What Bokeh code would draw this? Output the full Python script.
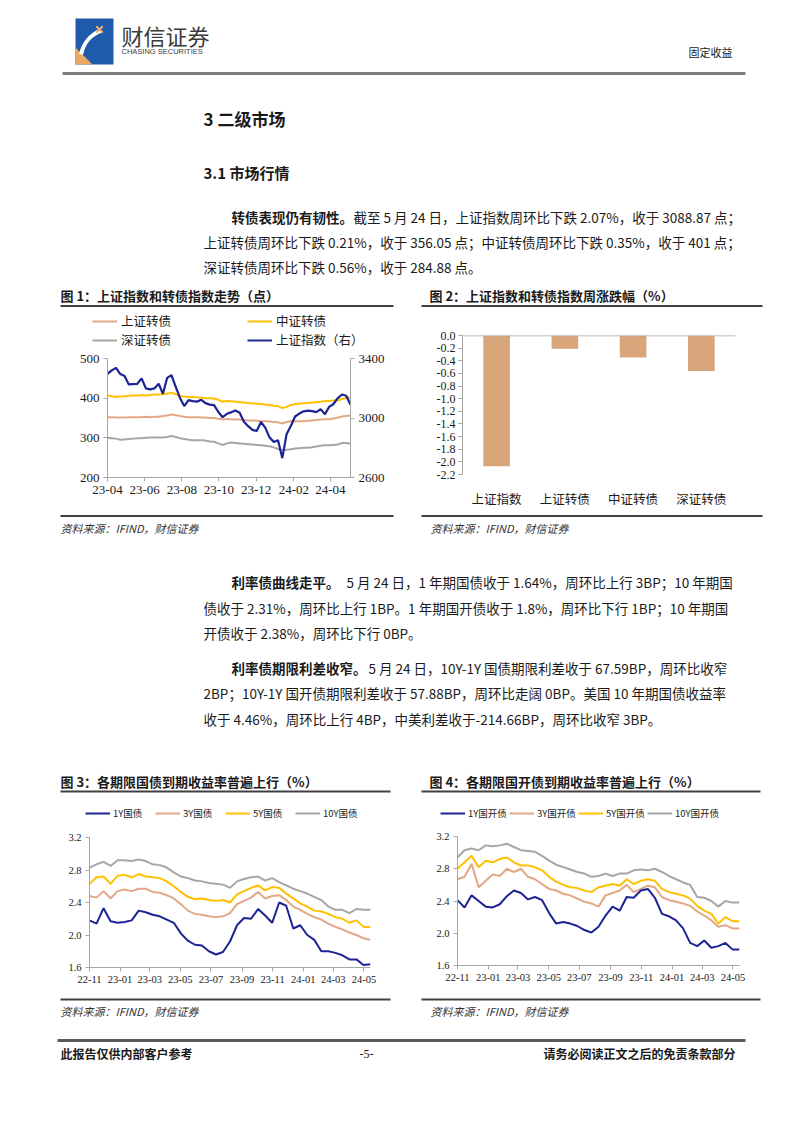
import pandas as pd
from bokeh.plotting import figure
from bokeh.layouts import column, row
from bokeh.models import (Range1d, LinearAxis, FixedTicker, Legend, LegendItem, FactorRange,
                          PrintfTickFormatter, ColumnDataSource, DatetimeTickFormatter, Span)
from bokeh.core.properties import value
from bokeh.embed import file_html
from bokeh.resources import INLINE

CJK = "Noto Sans CJK SC"
SERIF = "Liberation Serif"

# ---------------- data: chart 1 (weekly) ----------------
c1_dates = pd.date_range("2023-04-01", periods=58, freq="7D")
c1_sh_index = [3297, 3320, 3337, 3295, 3282, 3226, 3228, 3230, 3266, 3199,
               3192, 3199, 3230, 3163, 3270, 3288, 3210, 3135, 3080, 3120,
               3113, 3110, 3122, 3100, 3090, 3087, 3040, 3005, 3028, 3038,
               3050, 3035, 2975, 2945, 2920, 2913, 2973, 2935, 2870, 2838,
               2850, 2730, 2890, 2946, 3010, 3030, 3045, 3050, 3046, 3040,
               3060, 3025, 3075, 3094, 3133, 3158, 3150, 3089]
c1_zz_cb = [407, 405, 403, 404, 405, 406, 407, 407, 408, 407,
            408, 409, 409, 410, 412, 414, 410, 405, 404, 403,
            403, 402, 401, 400, 400, 399, 396, 391, 393, 392,
            391, 390, 389, 388, 387, 386, 385, 384, 383, 381,
            380, 375, 378, 383, 385, 386, 387, 388, 389, 390,
            391, 393, 393, 394, 394, 398, 401, 401]
c1_sh_cb = [352, 352, 351, 351, 351, 352, 352, 352, 352, 353,
            352, 353, 353, 355, 356, 359, 357, 355, 353, 352,
            352, 352, 351, 351, 350, 350, 348, 347, 347, 347,
            346, 346, 345, 344, 344, 343, 342, 342, 341, 340,
            339, 336, 340, 342, 342, 342, 342, 343, 344, 345,
            346, 347, 347, 349, 351, 354, 355, 356]
c1_sz_cb = [300, 299, 298, 295, 296, 297, 298, 299, 299, 300,
            301, 301, 301, 301, 302, 305, 302, 299, 297, 295,
            294, 294, 294, 293, 291, 290, 286, 282, 286, 288,
            287, 286, 285, 284, 283, 282, 281, 280, 279, 276,
            272, 269, 270, 271, 273, 274, 275, 275, 276, 278,
            280, 281, 281, 282, 283, 287, 287, 285]
c1_names = ["上证转债", "中证转债", "深证转债", "上证指数（右）"]
c1_tick_dates = ["2023-04-01", "2023-06-01", "2023-08-01", "2023-10-01",
                 "2023-12-01", "2024-02-01", "2024-04-01"]
c1_tick_labels = ["23-04", "23-06", "23-08", "23-10", "23-12", "24-02", "24-04"]
c1_left_ticks = [200, 300, 400, 500]
c1_right_ticks = [2600, 3000, 3400]

# ---------------- data: chart 2 ----------------
c2_categories = ["上证指数", "上证转债", "中证转债", "深证转债"]
c2_values = [-2.07, -0.21, -0.35, -0.56]
c2_ticks = [0.0, -0.2, -0.4, -0.6, -0.8, -1.0, -1.2, -1.4, -1.6, -1.8, -2.0, -2.2]

# ---------------- data: chart 3 (bi-weekly) ----------------
c3_dates = pd.date_range("2022-11-01", periods=41, freq="14D")
c3_1y = [2.18, 2.14, 2.33, 2.17, 2.15, 2.16, 2.18, 2.30, 2.28, 2.25,
         2.23, 2.19, 2.15, 2.02, 1.93, 1.88, 1.87, 1.80, 1.76, 1.79,
         1.92, 2.12, 2.21, 2.20, 2.32, 2.24, 2.15, 2.40, 2.36, 2.08,
         2.12, 2.00, 1.94, 1.80, 1.80, 1.78, 1.75, 1.70, 1.70, 1.63, 1.64]
c3_3y = [2.48, 2.46, 2.54, 2.45, 2.54, 2.56, 2.54, 2.57, 2.57, 2.53,
         2.52, 2.49, 2.45, 2.38, 2.30, 2.26, 2.25, 2.23, 2.22, 2.23,
         2.27, 2.38, 2.42, 2.46, 2.53, 2.45, 2.48, 2.49, 2.43, 2.35,
         2.31, 2.26, 2.22, 2.19, 2.14, 2.10, 2.07, 2.03, 2.00, 1.96, 1.94]
c3_5y = [2.63, 2.71, 2.72, 2.63, 2.73, 2.74, 2.71, 2.75, 2.72, 2.71,
         2.70, 2.66, 2.60, 2.53, 2.47, 2.44, 2.45, 2.43, 2.42, 2.43,
         2.40, 2.50, 2.54, 2.58, 2.61, 2.55, 2.59, 2.58, 2.51, 2.45,
         2.39, 2.35, 2.30, 2.29, 2.26, 2.22, 2.20, 2.15, 2.18, 2.10, 2.10]
c3_10y = [2.83, 2.87, 2.90, 2.85, 2.92, 2.92, 2.91, 2.93, 2.91, 2.87,
          2.86, 2.83, 2.77, 2.72, 2.70, 2.67, 2.66, 2.64, 2.63, 2.62,
          2.58, 2.66, 2.69, 2.71, 2.72, 2.67, 2.70, 2.65, 2.61, 2.57,
          2.54, 2.51, 2.47, 2.43, 2.35, 2.31, 2.31, 2.27, 2.32, 2.31, 2.31]
c3_names = ["1Y国债", "3Y国债", "5Y国债", "10Y国债"]

# ---------------- data: chart 4 (bi-weekly) ----------------
c4_dates = pd.date_range("2022-11-01", periods=41, freq="14D")
c4_1y = [2.41, 2.32, 2.47, 2.40, 2.33, 2.32, 2.36, 2.46, 2.53, 2.50,
         2.42, 2.45, 2.41, 2.25, 2.12, 2.14, 2.12, 2.09, 2.04, 2.01,
         2.08, 2.22, 2.33, 2.28, 2.45, 2.44, 2.53, 2.55, 2.44, 2.24,
         2.21, 2.16, 2.06, 1.88, 1.84, 1.91, 1.82, 1.84, 1.88, 1.80, 1.80]
c4_3y = [2.67, 2.70, 2.86, 2.57, 2.65, 2.73, 2.71, 2.80, 2.76, 2.80,
         2.70, 2.67, 2.61, 2.55, 2.53, 2.49, 2.47, 2.43, 2.39, 2.37,
         2.33, 2.47, 2.50, 2.53, 2.60, 2.51, 2.55, 2.59, 2.57, 2.45,
         2.41, 2.39, 2.37, 2.34, 2.27, 2.22, 2.16, 2.08, 2.10, 2.06, 2.06]
c4_5y = [2.80, 2.88, 2.96, 2.82, 2.90, 2.88, 2.92, 2.94, 2.88, 2.84,
         2.84, 2.82, 2.78, 2.70, 2.64, 2.60, 2.57, 2.56, 2.53, 2.51,
         2.57, 2.59, 2.61, 2.59, 2.67, 2.61, 2.65, 2.67, 2.65, 2.55,
         2.51, 2.49, 2.47, 2.43, 2.34, 2.28, 2.24, 2.12, 2.20, 2.15, 2.15]
c4_10y = [2.94, 3.03, 3.05, 3.03, 3.09, 3.08, 3.09, 3.11, 3.07, 3.03,
          3.02, 3.01, 2.96, 2.90, 2.85, 2.82, 2.79, 2.76, 2.74, 2.70,
          2.71, 2.74, 2.71, 2.74, 2.74, 2.78, 2.79, 2.78, 2.80, 2.76,
          2.71, 2.67, 2.63, 2.60, 2.45, 2.44, 2.40, 2.33, 2.40, 2.38, 2.38]
c4_names = ["1Y国开债", "3Y国开债", "5Y国开债", "10Y国开债"]

c34_tick_dates = ["2022-11-01", "2023-01-01", "2023-03-01", "2023-05-01", "2023-07-01",
                  "2023-09-01", "2023-11-01", "2024-01-01", "2024-03-01", "2024-05-01"]
c34_tick_labels = ["22-11", "23-01", "23-03", "23-05", "23-07",
                   "23-09", "23-11", "24-01", "24-03", "24-05"]
c34_y_ticks = [1.6, 2.0, 2.4, 2.8, 3.2]

BLUE = "#1C2494"
SALMON = "#E2A787"
YELLOW = "#FFC000"
GRAY = "#A6A6A6"
BAR = "#D9A57B"
AXIS = "#A6A6A6"
BODY = "13.5px"


def ms(d):
    return pd.Timestamp(d).value / 1e6


def style_axis(ax, size):
    ax.axis_line_color = AXIS
    ax.major_tick_line_color = AXIS
    ax.minor_tick_line_color = None
    ax.major_tick_in = 0
    ax.major_tick_out = 4
    ax.major_label_text_font = SERIF
    ax.major_label_text_font_size = size
    ax.major_label_text_color = "#1a1a1a"
    ax.major_label_standoff = 4


def base_fig(**kw):
    p = figure(output_backend="svg", toolbar_location=None, **kw)
    p.grid.visible = False
    p.outline_line_color = None
    p.background_fill_color = "white"
    p.border_fill_color = "white"
    return p


def blank_fig(w, h, y0=0):
    return base_fig(width=w, height=h, x_range=Range1d(0, w), y_range=Range1d(y0 + h, y0),
                    x_axis_location=None, y_axis_location=None, min_border=0)


def put(p, x, y, s, size=BODY, style="normal", align="left", color="#1a1a1a", font=CJK):
    p.text(x=[x], y=[y], text=[s], text_font=value(font), text_font_size=size,
           text_font_style=style, text_align=align, text_baseline="middle", text_color=color)


def hline(p, x0, x1, y, w=2.0, color="#404040"):
    p.segment(x0=[x0], y0=[y], x1=[x1], y1=[y], line_width=w, line_color=color)


def legend_fig(w, h, names, colors, loc, ncols, size, gh, lw, standoff):
    # blank strip carrying the chart's legend; swatch renderers hold a single NaN point (draw nothing)
    lf = blank_fig(w, h)
    nan = float("nan")
    rs = [lf.line(x=[nan], y=[nan], line_color=c, line_width=2) for c in colors]
    leg = Legend(items=[LegendItem(label=n, renderers=[r]) for n, r in zip(names, rs)],
                 location=loc, orientation="horizontal", ncols=ncols,
                 label_text_font=CJK, label_text_font_size=size, label_text_color="#1a1a1a",
                 glyph_width=25, glyph_height=gh, label_height=gh, label_width=lw,
                 label_standoff=standoff, spacing=0, padding=0, margin=0,
                 border_line_color=None, background_fill_alpha=0)
    lf.add_layout(leg, "center")
    return column(lf)   # wrapped, so that its frame is not aligned with the chart below


# ================= top page block (0..310) =================
top = blank_fig(802, 310)
top.quad(left=[75], right=[113], top=[18], bottom=[64], fill_color="#1F5BAA", line_color=None)
top.patch(x=[75, 75, 92], y=[47, 64, 64], fill_color="#E9A866", line_color=None)
top.arc(x=[112], y=[60], radius=32, start_angle=1.96, end_angle=2.95, line_color="white", line_width=4)
top.scatter(x=[99], y=[29], marker="x", size=9, line_color="#F2B27A", line_width=2)
put(top, 121, 34, "财信证券", size="22px", color="#3a3a3a")
put(top, 121, 51, "CHASING SECURITIES", size="7.5px", color="#3a3a3a", font="Liberation Sans")
put(top, 732, 51, "固定收益", size="11px", align="right")
hline(top, 62, 745, 73, w=3, color="#7F7F7F")
put(top, 203, 118, "3 二级市场", size="17px", style="bold")
put(top, 203, 172, "3.1 市场行情", size="15px", style="bold")
put(top, 231, 216, "转债表现仍有韧性。", style="bold")
put(top, 353, 216, "截至 5 月 24 日，上证指数周环比下跌 2.07%，收于 3088.87 点；")
put(top, 203, 241, "上证转债周环比下跌 0.21%，收于 356.05 点；中证转债周环比下跌 0.35%，收于 401 点；")
put(top, 203, 266, "深证转债周环比下跌 0.56%，收于 284.88 点。")
put(top, 60, 295, "图 1：上证指数和转债指数走势（点）", size="13px", style="bold")
put(top, 429, 295, "图 2：上证指数和转债指数周涨跌幅（%）", size="13px", style="bold")
hline(top, 60, 393, 305.5)
hline(top, 421, 762, 305.5)

# ================= chart 1 (legend strip 310..350, plot 350..510) =================
leg1 = legend_fig(401, 40, c1_names, [SALMON, YELLOW, GRAY, BLUE], (92, 1), 2, "12.5px", 16, 126, 4)
src1 = ColumnDataSource(dict(date=c1_dates, idx=c1_sh_index, zz=c1_zz_cb, sh=c1_sh_cb, sz=c1_sz_cb))
p1 = base_fig(width=401, height=160, x_axis_type="datetime",
              x_range=Range1d(c1_dates[0], c1_dates[-1]), y_range=Range1d(200, 500),
              min_border_left=107, min_border_right=51, min_border_top=8, min_border_bottom=33)
p1.extra_y_ranges = {"right": Range1d(2600, 3400)}
p1.line("date", "sz", source=src1, line_color=GRAY, line_width=2)
p1.line("date", "sh", source=src1, line_color=SALMON, line_width=2)
p1.line("date", "zz", source=src1, line_color=YELLOW, line_width=2)
p1.line("date", "idx", source=src1, line_color=BLUE, line_width=2.2, y_range_name="right")
p1.yaxis.ticker = FixedTicker(ticks=c1_left_ticks)
style_axis(p1.yaxis[0], "13px")
p1.xaxis.ticker = FixedTicker(ticks=[ms(d) for d in c1_tick_dates])
p1.xaxis.formatter = DatetimeTickFormatter(days="%y-%m", months="%y-%m", years="%y-%m")
p1.xaxis.major_label_overrides = {ms(d): l for d, l in zip(c1_tick_dates, c1_tick_labels)}
style_axis(p1.xaxis[0], "13px")
ax_r = LinearAxis(y_range_name="right", ticker=FixedTicker(ticks=c1_right_ticks))
style_axis(ax_r, "13px")
p1.add_layout(ax_r, "right")

# ================= chart 2 =================
p2 = base_fig(width=401, height=200, x_range=FactorRange(*c2_categories), y_range=Range1d(-2.2, 0),
              min_border_left=61, min_border_right=67, min_border_top=25, min_border_bottom=28)
p2.vbar(x=c2_categories, top=c2_values, bottom=0, width=0.39, fill_color=BAR, line_color=None)
p2.yaxis.ticker = FixedTicker(ticks=c2_ticks)
p2.yaxis.formatter = PrintfTickFormatter(format="%.1f")
style_axis(p2.yaxis[0], "12px")
p2.yaxis.major_label_standoff = 3
p2.xaxis.axis_line_color = None
p2.xaxis.major_tick_line_color = None
p2.xaxis.major_label_text_font = CJK
p2.xaxis.major_label_text_font_size = "12.5px"
p2.xaxis.major_label_text_color = "#1a1a1a"
p2.xaxis.major_label_standoff = 8
p2.add_layout(Span(location=0, dimension="width", line_color=AXIS, line_width=1.5))

# ================= middle page block (510..795) =================
mid = blank_fig(802, 285, 510)
hline(mid, 60, 393, 515.5)
hline(mid, 421, 762, 515.5)
put(mid, 60, 527, "资料来源：IFIND，财信证券", size="11px", style="italic", color="#333333")
put(mid, 430, 527, "资料来源：IFIND，财信证券", size="11px", style="italic", color="#333333")
put(mid, 231, 581, "利率债曲线走平。", style="bold")
put(mid, 346, 581, "5 月 24 日，1 年期国债收于 1.64%，周环比上行 3BP；10 年期国")
put(mid, 203, 607, "债收于 2.31%，周环比上行 1BP。1 年期国开债收于 1.8%，周环比下行 1BP；10 年期国")
put(mid, 203, 632, "开债收于 2.38%，周环比下行 0BP。")
put(mid, 231, 667, "利率债期限利差收窄。", style="bold")
put(mid, 368, 667, "5 月 24 日，10Y-1Y 国债期限利差收于 67.59BP，周环比收窄")
put(mid, 203, 692, "2BP；10Y-1Y 国开债期限利差收于 57.88BP，周环比走阔 0BP。美国 10 年期国债收益率")
put(mid, 203, 718, "收于 4.46%，周环比上行 4BP，中美利差收于-214.66BP，周环比收窄 3BP。")
put(mid, 60, 780.5, "图 3：各期限国债到期收益率普遍上行（%）", size="13px", style="bold")
put(mid, 429, 780.5, "图 4：各期限国开债到期收益率普遍上行（%）", size="13px", style="bold")
hline(mid, 60, 390, 791)
hline(mid, 421, 760, 791)


# ================= charts 3 & 4 (legend strip 795..825, plot 825..995) =================
def yield_chart(dates, series, borders):
    left, right, top_b, bottom = borders
    src = ColumnDataSource(dict(date=dates, s1=series[0], s3=series[1], s5=series[2], s10=series[3]))
    p = base_fig(width=401, height=170, x_axis_type="datetime",
                 x_range=Range1d(dates[0], dates[-1]), y_range=Range1d(1.6, 3.2),
                 min_border_left=left, min_border_right=right,
                 min_border_top=top_b, min_border_bottom=bottom)
    p.line("date", "s10", source=src, line_color=GRAY, line_width=2)
    p.line("date", "s3", source=src, line_color=SALMON, line_width=2)
    p.line("date", "s5", source=src, line_color=YELLOW, line_width=2)
    p.line("date", "s1", source=src, line_color=BLUE, line_width=2)
    p.yaxis.ticker = FixedTicker(ticks=c34_y_ticks)
    p.yaxis.formatter = PrintfTickFormatter(format="%.1f")
    style_axis(p.yaxis[0], "10.5px")
    p.xaxis.ticker = FixedTicker(ticks=[ms(d) for d in c34_tick_dates])
    p.xaxis.formatter = DatetimeTickFormatter(days="%y-%m", months="%y-%m", years="%y-%m")
    p.xaxis.major_label_overrides = {ms(d): l for d, l in zip(c34_tick_dates, c34_tick_labels)}
    style_axis(p.xaxis[0], "10.5px")
    return p


COLS4 = [BLUE, SALMON, YELLOW, GRAY]
leg3 = legend_fig(401, 30, c3_names, COLS4, (85, 5), 4, "9.5px", 14, 42, 3)
leg4 = legend_fig(401, 30, c4_names, COLS4, (39, 5), 4, "9.5px", 14, 41, 3)
p3 = yield_chart(c3_dates, [c3_1y, c3_3y, c3_5y, c3_10y], (89, 31, 12, 28))
p4 = yield_chart(c4_dates, [c4_1y, c4_3y, c4_5y, c4_10y], (56, 63, 11, 30))

# ================= bottom page block (995..1133) =================
bot = blank_fig(802, 138, 995)
hline(bot, 60, 390, 999)
hline(bot, 421, 760, 999)
put(bot, 60, 1010, "资料来源：IFIND，财信证券", size="11px", style="italic", color="#333333")
put(bot, 430, 1010, "资料来源：IFIND，财信证券", size="11px", style="italic", color="#333333")
hline(bot, 57, 745, 1040, w=3, color="#595959")
put(bot, 60, 1053, "此报告仅供内部客户参考", size="12px", style="bold")
put(bot, 366, 1053, "-5-", size="12px", align="center", font=SERIF)
put(bot, 735, 1053, "请务必阅读正文之后的免责条款部分", size="12px", style="bold", align="right")

page = column(top,
              row(column(leg1, column(p1)), p2),
              mid,
              row(column(leg3, column(p3)), column(leg4, column(p4))),
              bot)
open("out.html", "w").write(file_html(page, INLINE))
